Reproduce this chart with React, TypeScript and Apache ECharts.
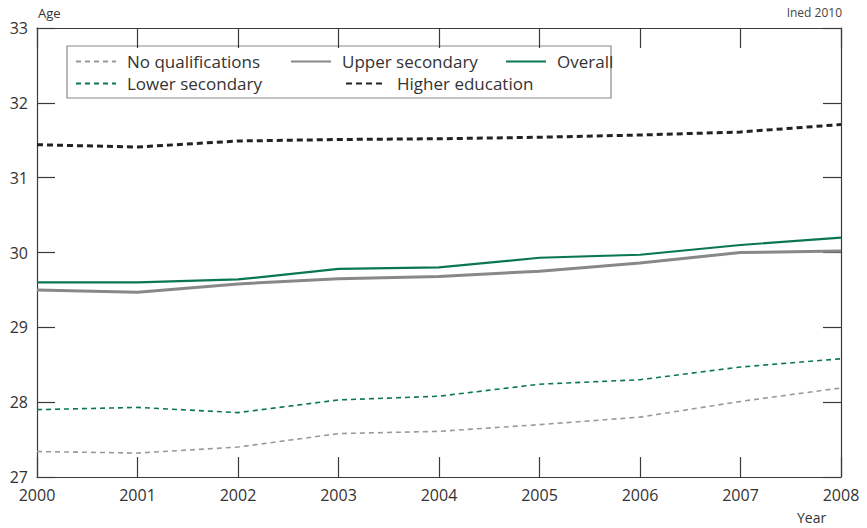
import { useEffect, useRef } from 'react';
import * as echarts from 'echarts';
import type { EChartsOption } from 'echarts';

const years = ['2000', '2001', '2002', '2003', '2004', '2005', '2006', '2007', '2008'];

const noQualifications = [27.34, 27.32, 27.4, 27.58, 27.61, 27.7, 27.8, 28.01, 28.19];
const lowerSecondary = [27.9, 27.93, 27.86, 28.03, 28.08, 28.24, 28.3, 28.47, 28.58];
const upperSecondary = [29.5, 29.47, 29.58, 29.65, 29.68, 29.75, 29.86, 30.0, 30.02];
const overall = [29.6, 29.6, 29.64, 29.78, 29.8, 29.93, 29.97, 30.1, 30.2];
const higherEducation = [31.44, 31.41, 31.49, 31.51, 31.52, 31.54, 31.57, 31.61, 31.71];

const FONT = "'Open Sans', 'Noto Sans', sans-serif";
const AXIS_COLOR = '#3a3a3a';
const GREEN = '#0a7656';

const legendText = { fontFamily: FONT, fontSize: 17, color: '#333', padding: [0, 0, 0, 6] };

// one legend per entry, so the box can keep the original's uneven layout
const makeLegend = (name: string, left: number, top: number) => ({
  data: [name],
  left,
  top,
  padding: 0,
  itemWidth: 40,
  itemHeight: 14,
  selectedMode: false,
  itemStyle: { opacity: 0 },
  textStyle: legendText,
});

const App = () => {
  const chartRef = useRef<HTMLDivElement>(null);

  useEffect(() => {
    if (!chartRef.current) return;
    document.body.style.margin = '0';
    const chart = echarts.init(chartRef.current, undefined, { renderer: 'svg' });

    const tickStyle = { color: AXIS_COLOR, width: 1.2 };

    const option: EChartsOption = {
      animation: false,
      grid: { left: 37, right: 26, top: 28, bottom: 51 },
      graphic: [
        {
          type: 'rect',
          shape: { x: 67, y: 46, width: 544, height: 52 },
          style: { fill: '#fff', stroke: '#8a8a8a', lineWidth: 1.2 },
        },
        {
          type: 'text',
          left: 38,
          top: 6,
          style: { text: 'Age', fontFamily: FONT, fontSize: 13, fill: '#333' },
        },
        {
          type: 'text',
          right: 25,
          top: 6,
          style: { text: 'Ined 2010', fontFamily: FONT, fontSize: 12, fill: '#444' },
        },
        {
          type: 'text',
          left: 797,
          top: 510,
          style: { text: 'Year', fontFamily: FONT, fontSize: 14, fill: '#333' },
        },
      ],
      legend: [
        makeLegend('No qualifications', 75, 53),
        makeLegend('Upper secondary', 290, 53),
        makeLegend('Overall', 505, 53),
        makeLegend('Lower secondary', 75, 75),
        makeLegend('Higher education', 345, 75),
      ],
      xAxis: [
        {
          type: 'category',
          data: years,
          boundaryGap: false,
          axisLine: { lineStyle: tickStyle },
          axisTick: { inside: true, length: 20, lineStyle: tickStyle },
          axisLabel: { fontFamily: FONT, fontSize: 16, color: '#333', margin: 10 },
          splitLine: { show: false },
        },
        {
          type: 'category',
          data: years,
          position: 'top',
          boundaryGap: false,
          axisLine: { lineStyle: tickStyle },
          axisTick: { inside: true, length: 20, lineStyle: tickStyle },
          axisLabel: { show: false },
          splitLine: { show: false },
        },
      ],
      yAxis: [
        {
          type: 'value',
          min: 27,
          max: 33,
          interval: 1,
          axisLine: { show: true, lineStyle: tickStyle },
          axisTick: { show: true, inside: true, length: 18, lineStyle: tickStyle },
          axisLabel: { fontFamily: FONT, fontSize: 16, color: '#333', margin: 9 },
          splitLine: { show: false },
        },
        {
          type: 'value',
          min: 27,
          max: 33,
          interval: 1,
          position: 'right',
          axisLine: { show: true, lineStyle: tickStyle },
          axisTick: { show: true, inside: true, length: 18, lineStyle: tickStyle },
          axisLabel: { show: false },
          splitLine: { show: false },
        },
      ],
      series: [
        {
          name: 'No qualifications',
          type: 'line',
          data: noQualifications,
          symbol: 'none',
          itemStyle: { color: '#9a9a9a' },
          lineStyle: { color: '#9a9a9a', width: 1.6, type: [5, 4] },
        },
        {
          name: 'Lower secondary',
          type: 'line',
          data: lowerSecondary,
          symbol: 'none',
          itemStyle: { color: GREEN },
          lineStyle: { color: GREEN, width: 1.6, type: [5, 4] },
        },
        {
          name: 'Upper secondary',
          type: 'line',
          data: upperSecondary,
          symbol: 'none',
          itemStyle: { color: '#888' },
          lineStyle: { color: '#888', width: 3 },
        },
        {
          name: 'Overall',
          type: 'line',
          data: overall,
          symbol: 'none',
          itemStyle: { color: GREEN },
          lineStyle: { color: GREEN, width: 2.2 },
        },
        {
          name: 'Higher education',
          type: 'line',
          data: higherEducation,
          symbol: 'none',
          itemStyle: { color: '#222' },
          lineStyle: { color: '#222', width: 3, type: [6, 4] },
        },
      ],
    };

    chart.setOption(option);

    return () => {
      chart.dispose();
    };
  }, []);

  return <div ref={chartRef} style={{ width: 867, height: 528 }} />;
};

export default App;
